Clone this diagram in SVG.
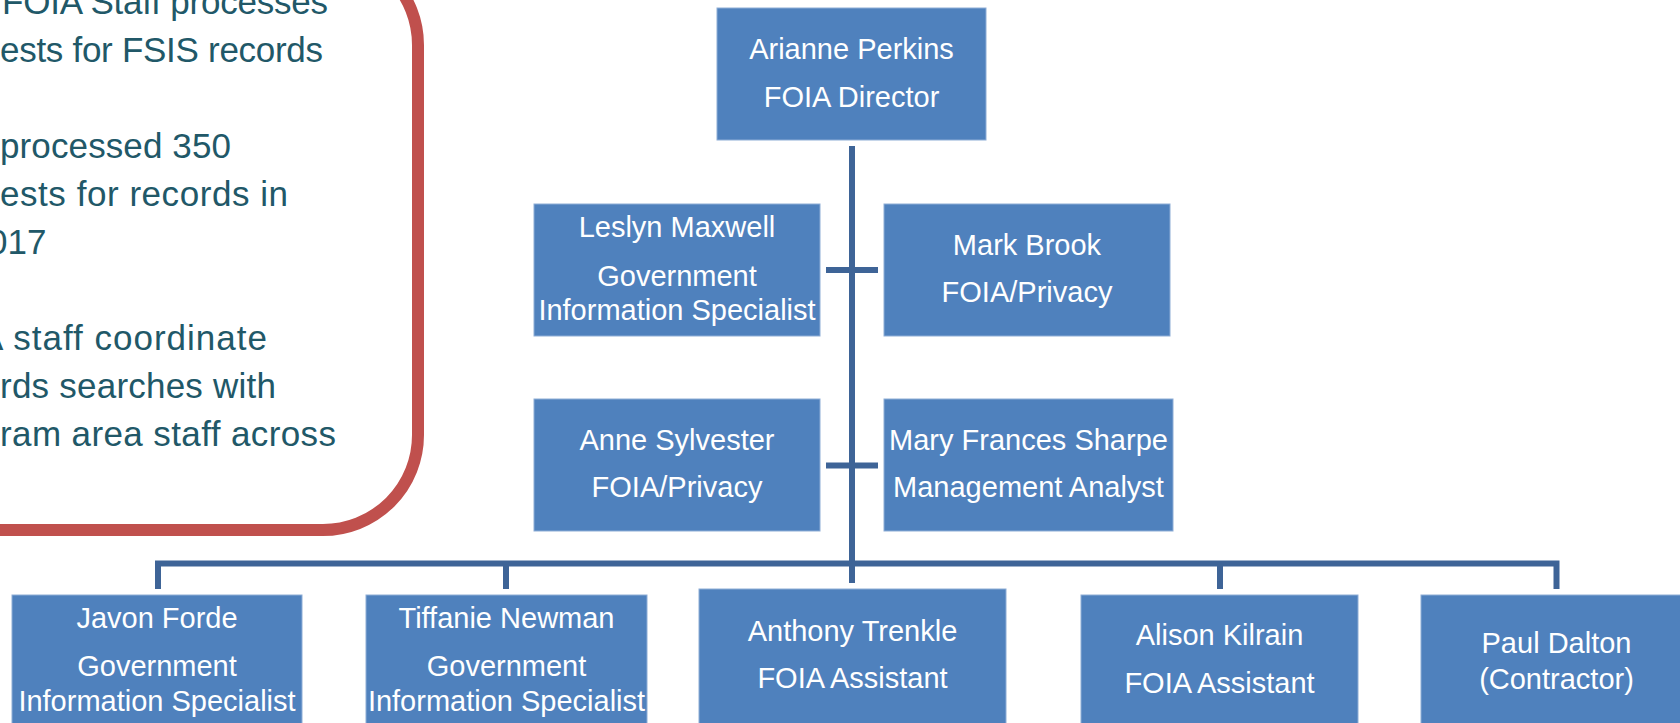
<svg xmlns="http://www.w3.org/2000/svg" width="1680" height="723" viewBox="0 0 1680 723">
<style>
.box{fill:#4F81BD;stroke:#8EADD6;stroke-width:1}
.t{font-family:"Liberation Sans",Arial,sans-serif;font-size:29px;fill:#FFFFFF;text-anchor:middle}
.p{font-family:"Liberation Sans",Arial,sans-serif;font-size:35px;fill:#215868}
.c{stroke:#3E6497;stroke-width:6;fill:none}
</style>
<rect width="1680" height="723" fill="#FFFFFF"/>
<g id="panel">
<rect x="-200" y="-50" width="618" height="580" rx="95" ry="95" fill="none" stroke="#C0504D" stroke-width="12"/>
<text class="p" x="2" y="14" textLength="326">FOIA Staff processes</text>
<text class="p" x="0" y="62" textLength="323">ests for FSIS records</text>
<text class="p" x="0" y="158" textLength="231">processed 350</text>
<text class="p" x="0" y="206" textLength="288">ests for records in</text>
<text class="p" x="-12" y="254">017</text>
<text class="p" x="-20" y="350" textLength="287">A staff coordinate</text>
<text class="p" x="0" y="398" textLength="276">rds searches with</text>
<text class="p" x="0" y="446" textLength="336">ram area staff across</text>
</g>
<g id="connectors">
<line class="c" x1="852" y1="146" x2="852" y2="583"/>
<line class="c" x1="826" y1="270" x2="878" y2="270"/>
<line class="c" x1="826" y1="465.5" x2="878" y2="465.5"/>
<path class="c" d="M158 589 V563.5 H1556.5 V589"/>
<line class="c" x1="506" y1="563.5" x2="506" y2="589"/>
<line class="c" x1="1220" y1="563.5" x2="1220" y2="589"/>
</g>
<g id="arianne">
<rect class="box" x="717" y="8" width="269" height="132"/>
<text class="t" x="851.5" y="59">Arianne Perkins</text>
<text class="t" x="851.5" y="107">FOIA Director</text>
</g>
<g id="leslyn">
<rect class="box" x="534" y="204" width="286" height="132"/>
<text class="t" x="677" y="237">Leslyn Maxwell</text>
<text class="t" x="677" y="286">Government</text>
<text class="t" x="677" y="320">Information Specialist</text>
</g>
<g id="mark">
<rect class="box" x="884" y="204" width="286" height="132"/>
<text class="t" x="1027" y="255">Mark Brook</text>
<text class="t" x="1027" y="302">FOIA/Privacy</text>
</g>
<g id="anne">
<rect class="box" x="534" y="399" width="286" height="132"/>
<text class="t" x="677" y="450">Anne Sylvester</text>
<text class="t" x="677" y="497">FOIA/Privacy</text>
</g>
<g id="mary">
<rect class="box" x="884" y="399" width="289" height="132"/>
<text class="t" x="1028.5" y="450">Mary Frances Sharpe</text>
<text class="t" x="1028.5" y="497">Management Analyst</text>
</g>
<g id="javon">
<rect class="box" x="12" y="595" width="290" height="140"/>
<text class="t" x="157" y="628">Javon Forde</text>
<text class="t" x="157" y="676">Government</text>
<text class="t" x="157" y="711">Information Specialist</text>
</g>
<g id="tiffanie">
<rect class="box" x="366" y="595" width="281" height="140"/>
<text class="t" x="506.5" y="628">Tiffanie Newman</text>
<text class="t" x="506.5" y="676">Government</text>
<text class="t" x="506.5" y="711">Information Specialist</text>
</g>
<g id="anthony">
<rect class="box" x="699" y="589" width="307" height="146"/>
<text class="t" x="852.5" y="641">Anthony Trenkle</text>
<text class="t" x="852.5" y="688">FOIA Assistant</text>
</g>
<g id="alison">
<rect class="box" x="1081" y="595" width="277" height="140"/>
<text class="t" x="1219.5" y="645">Alison Kilrain</text>
<text class="t" x="1219.5" y="693">FOIA Assistant</text>
</g>
<g id="paul">
<rect class="box" x="1421" y="595" width="271" height="140"/>
<text class="t" x="1556.5" y="653">Paul Dalton</text>
<text class="t" x="1556.5" y="689">(Contractor)</text>
</g>
</svg>
